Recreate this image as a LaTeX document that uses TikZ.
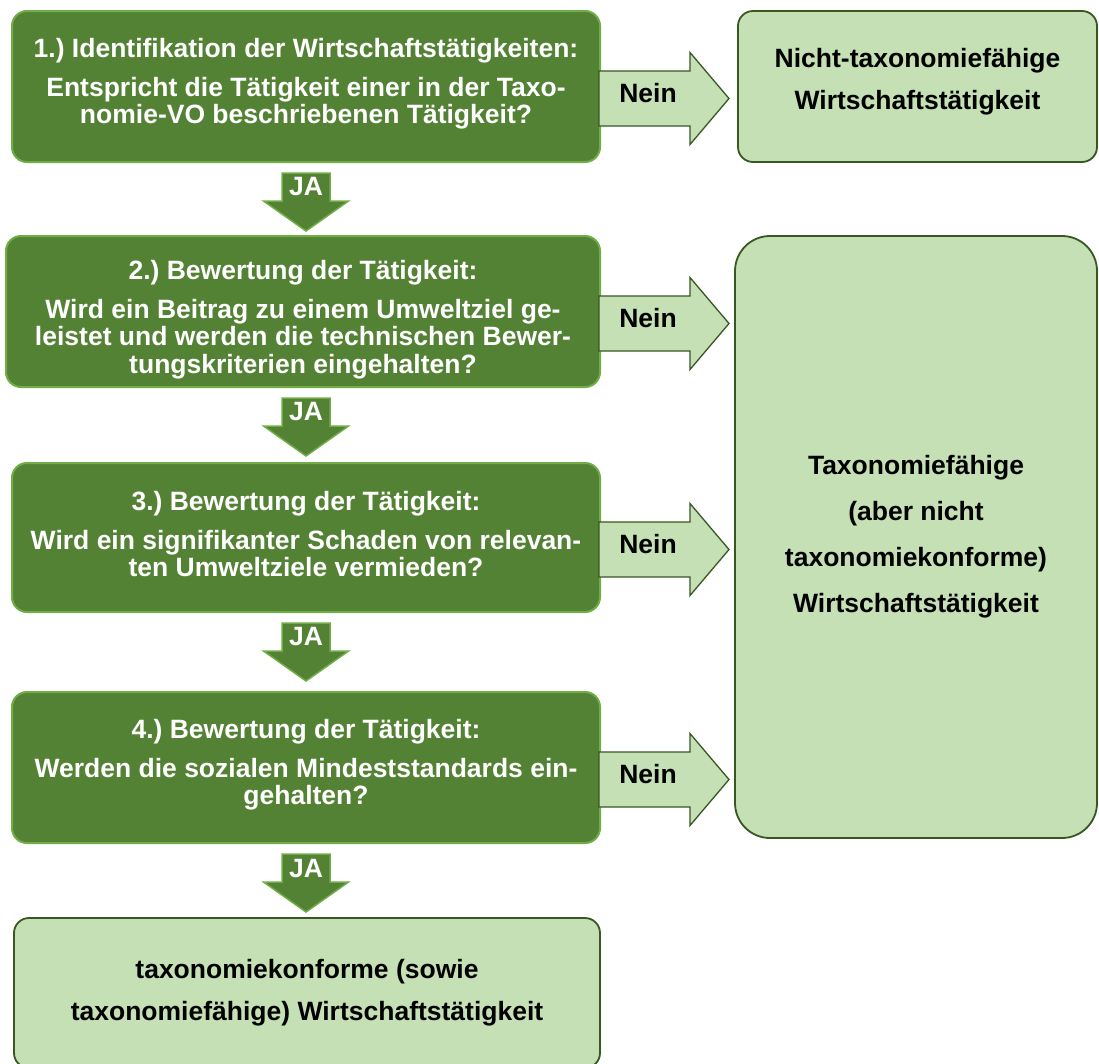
\documentclass[tikz,border=0pt]{standalone}
\usepackage{fontspec}
\setmainfont{Liberation Sans}
\usetikzlibrary{calc}
\definecolor{dkgreen}{HTML}{548235}
\definecolor{ltborder}{HTML}{70AD47}
\definecolor{ltfill}{HTML}{C5E0B4}
\definecolor{dkborder}{HTML}{385723}
\frenchspacing
\newcommand\neinarrow[2]{%
  \draw[neinstyle] ($(#1.east)+(-2,-15.5)$) -- ++(91,0) -- ++(0,-18.5) -- ++(39,46)
     -- ++(-39,46) -- ++(0,-18.5) -- ++(-91,0) -- cycle;
  \node[neinlabel] (#2) at ($(#1.east)+(47,7)$) {Nein};
}
\newcommand\jaarrow[2]{%
  \draw[jastyle] ($(#1.south -| b1.south)+(-24,10)$) -- ++(48,0) -- ++(0,28) -- ++(18.5,0)
     -- ++(-42.5,30) -- ++(-42.5,-30) -- ++(18.5,0) -- cycle;
  \node[jalabel] (#2) at ($(#1.south -| b1.south)+(0,24)$) {JA};
}
\begin{document}
\begin{tikzpicture}[x=1pt,y=-1pt,
  stepbox/.style={draw=ltborder, line width=2pt, fill=dkgreen, rounded corners=15pt,
    text=white, font=\bfseries\fontsize{26.5}{27.5}\selectfont, align=center, inner sep=0pt,
    text depth=11pt},
  resbox/.style={draw=dkborder, line width=1.8pt, fill=ltfill, rounded corners=15pt,
    text=black, align=center, inner sep=0pt},
  neinstyle/.style={draw=dkborder, line width=1.3pt, fill=ltfill, line join=miter},
  neinlabel/.style={text=black, font=\bfseries\fontsize{26.5}{28}\selectfont, inner sep=0pt},
  jastyle/.style={draw=ltborder, line width=1.5pt, fill=dkgreen, line join=miter},
  jalabel/.style={text=white, font=\bfseries\fontsize{26.5}{28}\selectfont, inner sep=0pt},
]
\useasboundingbox (0,0) rectangle (1099,1063);
\clip (0,0) rectangle (1099,1063);
\fill[white] (0,0) rectangle (1099,1063);

% step boxes
\node[stepbox, minimum width=588pt, minimum height=151pt] (b1) at (306,86.5)
  {1.) Identifikation der Wirtschaftstätigkeiten:\\[11pt]
   Entspricht die Tätigkeit einer in der Taxo-\\nomie-VO beschriebenen Tätigkeit?};
\node[stepbox, text depth=5.6pt, minimum width=594pt, minimum height=151pt] (b2) at (303,311.5)
  {\rule{0pt}{35.5pt}2.) Bewertung der Tätigkeit:\\[11pt]
   Wird ein Beitrag zu einem Umweltziel ge-\\leistet und werden die technischen Bewer-\\tungskriterien eingehalten?};
\node[stepbox, text depth=7pt, minimum width=588pt, minimum height=149pt] (b3) at (306,537.5)
  {3.) Bewertung der Tätigkeit:\\[11pt]
   Wird ein signifikanter Schaden von relevan-\\ten Umweltziele vermieden?};
\node[stepbox, minimum width=588pt, minimum height=151pt] (b4) at (306,767.5)
  {4.) Bewertung der Tätigkeit:\\[11pt]
   Werden die sozialen Mindeststandards ein-\\gehalten?};

% result boxes
\node[resbox, font=\bfseries\fontsize{26.5}{42}\selectfont, text depth=16pt,
      minimum width=359pt, minimum height=151pt] (r1) at (917.5,86.5)
  {Nicht-taxonomiefähige\\Wirtschaftstätigkeit};
\node[resbox, rounded corners=35pt, font=\bfseries\fontsize{26.5}{46}\selectfont,
      minimum width=362pt, minimum height=602pt] (r2) at (916,537)
  {Taxonomiefähige\\(aber nicht\\taxonomiekonforme)\\Wirtschaftstätigkeit};
\node[resbox, font=\bfseries\fontsize{26.5}{42}\selectfont,
      minimum width=586pt, minimum height=150pt] (b5) at (307,993)
  {taxonomiekonforme (sowie\\taxonomiefähige) Wirtschaftstätigkeit};

% Nein arrows
\neinarrow{b1}{n1}
\neinarrow{b2}{n2}
\neinarrow{b3}{n3}
\neinarrow{b4}{n4}

% JA arrows
\jaarrow{b1}{j1}
\jaarrow{b2}{j2}
\jaarrow{b3}{j3}
\jaarrow{b4}{j4}
\end{tikzpicture}
\end{document}
